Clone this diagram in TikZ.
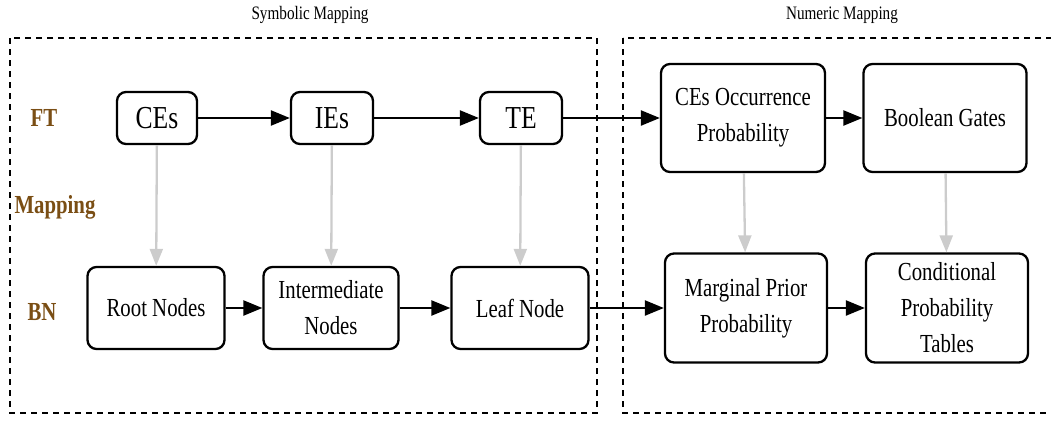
\documentclass[tikz,border=0pt]{standalone}
\usepackage{fontspec}
\setmainfont[FakeStretch=0.8]{Liberation Serif}
\usetikzlibrary{arrows.meta}
\definecolor{lblbrown}{RGB}{122,78,20}
\definecolor{lightarr}{RGB}{204,204,204}
\tikzset{
  box/.style={draw=black,line width=2.3pt,rounded corners=9pt,align=center,
    font=\fontsize{26}{36}\selectfont},
  frame/.style={draw=black,line width=2.3pt,dash pattern=on 6pt off 5pt},
  flow/.style={line width=2.3pt,-{Triangle[length=19pt,width=15pt]}},
  maparr/.style={draw=lightarr,line width=2.3pt,-{Triangle[length=17pt,width=13pt]}},
  sidelbl/.style={text=lblbrown,font=\fontsize{26}{28}\selectfont\bfseries},
  title/.style={font=\fontsize{19}{21}\selectfont}
}
\begin{document}
\begin{tikzpicture}[x=1pt,y=-1pt]
\useasboundingbox (0,0) rectangle (1051,423);
\draw[frame] (10,38) rectangle (597,413);
\draw[frame] (623,38) rectangle (1062,413);
\node[title] (symb) at (310,15) {Symbolic Mapping};
\node[title] (num) at (842,15) {Numeric Mapping};
\node[sidelbl] (ft) at (44,118) {FT};
\node[sidelbl] (map) at (55,207) {Mapping};
\node[sidelbl] (bn) at (42,312) {BN};
% fault tree row
\node[box,minimum width=80pt,minimum height=52pt,font=\fontsize{32}{36}\selectfont] (ce) at (157,118) {CEs};
\node[box,minimum width=82pt,minimum height=52pt,font=\fontsize{32}{36}\selectfont] (ie) at (332,118) {IEs};
\node[box,minimum width=82pt,minimum height=52pt,font=\fontsize{32}{36}\selectfont] (te) at (521,118) {TE};
\node[box,minimum width=164pt,minimum height=108pt] (occ) at (743,118) {CEs Occurrence\\Probability};
\node[box,minimum width=163pt,minimum height=108pt] (gate) at (945,118) {Boolean Gates};
% bayesian network row
\node[box,minimum width=137pt,minimum height=82pt] (root) at (156,308) {Root Nodes};
\node[box,minimum width=135pt,minimum height=82pt] (inter) at (331,308) {Intermediate\\Nodes};
\node[box,minimum width=137pt,minimum height=82pt] (leaf) at (520,308) {Leaf Node};
\node[box,minimum width=162pt,minimum height=109pt] (marg) at (746,308) {Marginal Prior\\Probability};
\node[box,minimum width=162pt,minimum height=109pt] (cpt) at (947,308) {Conditional\\Probability\\Tables};
\foreach \a/\b in {ce/ie,ie/te,te/occ,occ/gate,root/inter,inter/leaf,leaf/marg,marg/cpt}
\draw[flow] (\a) -- (\b);
\foreach \a/\b in {ce/root,ie/inter,te/leaf,occ/marg,gate/cpt}
\draw[maparr] (\a) -- (\b);
\end{tikzpicture}
\end{document}
